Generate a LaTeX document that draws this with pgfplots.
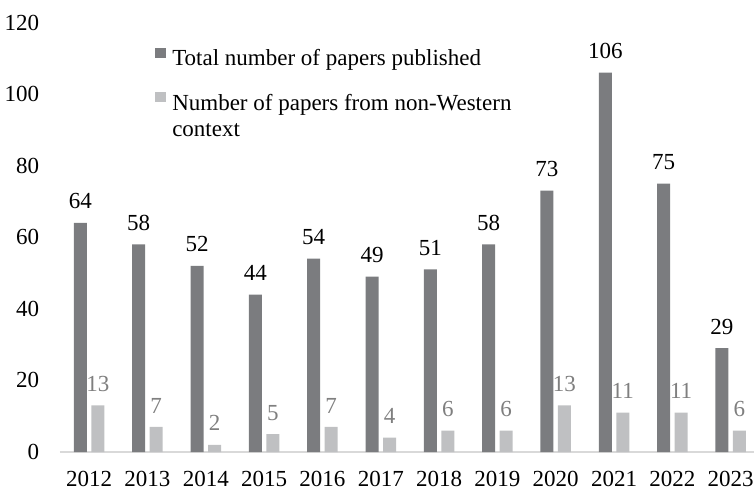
\documentclass[border=0pt]{standalone}
\usepackage{fontspec}
\setmainfont{Liberation Serif}
\usepackage{pgfplots}
\pgfplotsset{compat=1.18}
\definecolor{darkbar}{HTML}{7B7C7F}
\definecolor{lightbar}{HTML}{BFC0C2}
\definecolor{labelgray}{HTML}{7F7F7F}
\definecolor{baseline}{HTML}{D9D9D9}
\pgfplotsset{/pgf/number format/assume math mode=true}
\begin{document}
\fontsize{23}{26}\selectfont
\begin{tikzpicture}
\begin{axis}[
  name=ax,
  scale only axis,
  width=694pt, height=429.5pt,
  ybar=4.5pt, bar width=13pt,
  xmin=-0.5, xmax=11.4, ymin=0, ymax=120,
  xtick={0,1,2,3,4,5,6,7,8,9,10,11},
  xticklabels={2012,2013,2014,2015,2016,2017,2018,2019,2020,2021,2022,2023},
  ytick={0,20,40,60,80,100,120},
  axis x line*=bottom, axis y line*=left,
  x axis line style={draw=baseline, line width=1.3pt, -},
  y axis line style={draw=none},
  major tick length=0pt,
  tick style={draw=none},
  yticklabel style={xshift=-13pt},
  xticklabel style={inner sep=0pt, yshift=-19pt},
  every node near coord/.append style={yshift=6pt},
  legend style={at={(0.137,0.942)}, anchor=north west, draw=none, fill=none,
    inner sep=0pt, nodes={inner sep=0pt}, row sep=23pt,
    /tikz/column sep=6pt, cells={anchor=west}},
  legend image code/.code={\fill[#1] (0pt,1pt) rectangle (11pt,11.5pt);},
  clip=false,
]
\addplot[fill=darkbar, draw=none, nodes near coords,
  every node near coord/.append style={black}]
  coordinates {(0,64) (1,58) (2,52) (3,44) (4,54) (5,49) (6,51) (7,58) (8,73) (9,106) (10,75) (11,29)};
\addlegendentry{Total number of papers published}
\addplot[fill=lightbar, draw=none, nodes near coords,
  every node near coord/.append style={labelgray}]
  coordinates {(0,13) (1,7) (2,2) (3,5) (4,7) (5,4) (6,6) (7,6) (8,13) (9,11) (10,11) (11,6)};
\addlegendentry{\begin{tabular}[t]{@{}l@{}}Number of papers from non-Western\\context\end{tabular}}
\end{axis}
\pgfresetboundingbox
\path[use as bounding box] (ax.south west) ++(-60pt,-38pt) rectangle ++(754pt,490pt);
\end{tikzpicture}
\end{document}
